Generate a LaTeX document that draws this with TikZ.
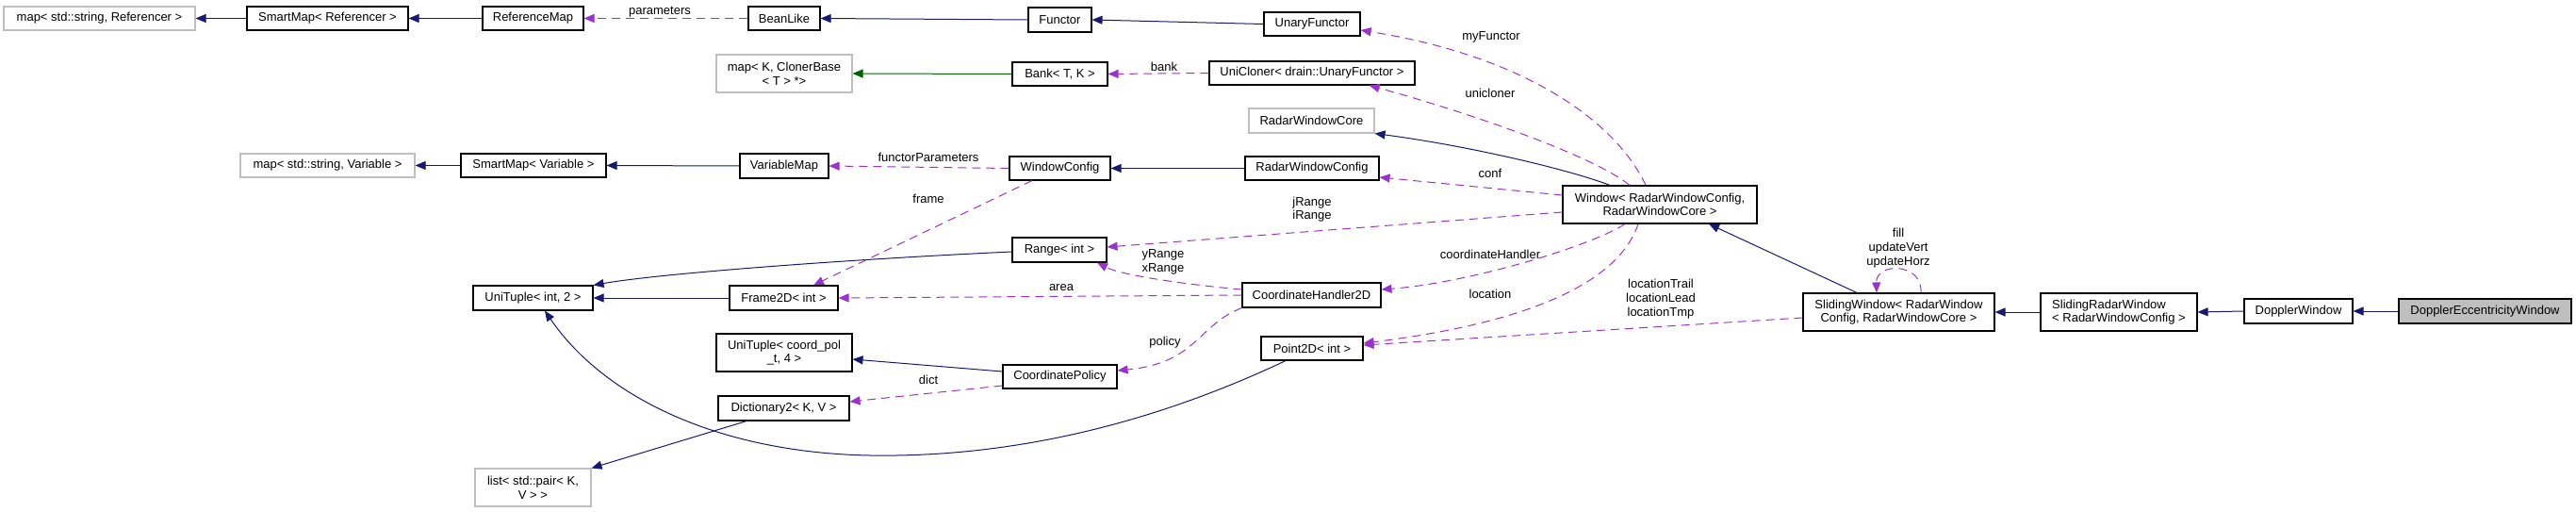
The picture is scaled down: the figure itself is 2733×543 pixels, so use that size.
\documentclass[tikz,border=0pt]{standalone}
\usepackage{fontspec}
\setmainfont{Liberation Sans}
\usetikzlibrary{arrows.meta}
\definecolor{navy}{HTML}{191970}
\definecolor{dpurple}{HTML}{9A32CD}
\definecolor{dgreen}{HTML}{006400}
\definecolor{grayline}{HTML}{BFBFBF}
\definecolor{focusfill}{HTML}{BFBFBF}
\begin{document}
\begin{tikzpicture}[x=1pt,y=-1pt,
  cls/.style={draw=black, line width=1.1pt, fill=white, inner sep=0pt,
    font=\fontsize{13}{14.7}\selectfont, align=center},
  ext/.style={cls, draw=grayline},
  focus/.style={cls, fill=focusfill},
  inh/.style={draw=navy, line width=1pt, -{Triangle[length=11pt,width=9pt]}},
  grn/.style={inh, draw=dgreen},
  use/.style={draw=dpurple, line width=1pt, dash pattern=on 9pt off 6pt,
    -{Triangle[length=11pt,width=9pt]}},
  lbl/.style={font=\fontsize{13}{14.7}\selectfont, align=center, inner sep=0pt}]
\useasboundingbox (0,0) rectangle (2733,543);

% nodes
\node[ext, minimum width=203pt, minimum height=25pt] (mapRef) at (105.5,19.5) {map< std::string, Referencer >};
\node[cls, minimum width=171pt, minimum height=25pt] (smRef) at (347.5,19.5) {SmartMap< Referencer >};
\node[cls, minimum width=107pt, minimum height=25pt] (refMap) at (565.5,19.5) {ReferenceMap};
\node[cls, minimum width=76pt, minimum height=25pt] (beanLike) at (832,19.5) {BeanLike};
\node[cls, minimum width=67pt, minimum height=26pt] (functor) at (1124.5,21) {Functor};
\node[cls, minimum width=102pt, minimum height=25pt] (unaryFunctor) at (1392,25.5) {UnaryFunctor};
\node[ext, minimum width=144pt, minimum height=40pt] (mapCloner) at (832,78) {map< K, ClonerBase\\< T > *>};
\node[cls, minimum width=101pt, minimum height=25pt] (bank) at (1124.5,78.5) {Bank< T, K >};
\node[cls, minimum width=218pt, minimum height=25pt] (uniCloner) at (1392,77.5) {UniCloner< drain::UnaryFunctor >};
\node[ext, minimum width=133pt, minimum height=26pt] (rwCore) at (1391.5,128) {RadarWindowCore};
\node[ext, minimum width=185pt, minimum height=25pt] (mapVar) at (347.5,175.5) {map< std::string, Variable >};
\node[cls, minimum width=154pt, minimum height=25pt] (smVar) at (566,175.5) {SmartMap< Variable >};
\node[cls, minimum width=94pt, minimum height=26pt] (varMap) at (832,176) {VariableMap};
\node[cls, minimum width=107pt, minimum height=25pt] (winConfig) at (1124.5,178.5) {WindowConfig};
\node[cls, minimum width=142pt, minimum height=25pt] (rwConfig) at (1392,178.5) {RadarWindowConfig};
\node[cls, minimum width=206pt, minimum height=40pt] (window) at (1761,217) {Window< RadarWindowConfig,\\RadarWindowCore >};
\node[cls, minimum width=100pt, minimum height=26pt] (range) at (1124,265) {Range< int >};
\node[cls, minimum width=127pt, minimum height=26pt] (uniTuple2) at (565.5,316) {UniTuple< int, 2 >};
\node[cls, minimum width=115pt, minimum height=26pt] (frame2D) at (831.5,316) {Frame2D< int >};
\node[cls, minimum width=147pt, minimum height=26pt] (coordH) at (1391.5,313) {CoordinateHandler2D};
\node[cls, minimum width=144pt, minimum height=40pt] (uniTuple4) at (832,374) {UniTuple< coord\_pol\\\_t, 4 >};
\node[cls, minimum width=121pt, minimum height=25pt] (coordPolicy) at (1124.5,399.5) {CoordinatePolicy};
\node[cls, minimum width=139pt, minimum height=26pt] (dict2) at (831.5,433) {Dictionary2< K, V >};
\node[cls, minimum width=108pt, minimum height=25pt] (point2D) at (1392,369.5) {Point2D< int >};
\node[ext, minimum width=123pt, minimum height=40pt] (listPair) at (565.5,517) {list< std::pair< K,\\V > >};
\node[cls, minimum width=203pt, minimum height=40pt] (slidingWin) at (2014.5,331) {SlidingWindow< RadarWindow\\Config, RadarWindowCore >};
\node[cls, minimum width=166pt, minimum height=40pt, align=left] (slidingRadar) at (2248,331) {SlidingRadarWindow\\< RadarWindowConfig >};
\node[cls, minimum width=115pt, minimum height=26pt] (dopplerWin) at (2438.5,330) {DopplerWindow};
\node[focus, minimum width=183pt, minimum height=26pt] (dopplerEcc) at (2636.5,330) {DopplerEccentricityWindow};

% edge labels
\node[lbl] (lParameters) at (700,13) {parameters};
\node[lbl] (lBank) at (1235,71) {bank};
\node[lbl] (lFunctorParameters) at (985,167) {functorParameters};
\node[lbl] (lFrame) at (985,211) {frame};
\node[lbl] (lMyFunctor) at (1582,39) {myFunctor};
\node[lbl] (lUnicloner) at (1581,99) {unicloner};
\node[lbl] (lConf) at (1581,184) {conf};
\node[lbl] (lIJRange) at (1392,222) {jRange\\iRange};
\node[lbl] (lCoordH) at (1581,270) {coordinateHandler};
\node[lbl] (lLocation) at (1581,312) {location};
\node[lbl] (lLocTrail) at (1762,317) {locationTrail\\locationLead\\locationTmp};
\node[lbl] (lXYRange) at (1234,278) {yRange\\xRange};
\node[lbl] (lArea) at (1126,305) {area};
\node[lbl] (lPolicy) at (1236,363) {policy};
\node[lbl] (lDict) at (985,403) {dict};
\node[lbl] (lFill) at (2014,263) {fill\\updateVert\\updateHorz};

% inheritance edges
\draw[inh] (smRef.west) -- (mapRef.east);
\draw[inh] (refMap.west) -- (smRef.east);
\draw[inh] (functor.west) -- (beanLike.east);
\draw[inh] (unaryFunctor.west) -- (functor.east);
\draw[grn] (bank.west) -- (mapCloner.east);
\draw[inh] (smVar.west) -- (mapVar.east);
\draw[inh] (varMap.west) -- (smVar.east);
\draw[inh] (rwConfig.west) -- (winConfig.east);
\draw[inh] ([xshift=-53pt]window.north) .. controls (1665,180) and (1560,155) .. (rwCore.south east);
\draw[inh] ([xshift=-44.5pt]slidingWin.north) -- ([xshift=52pt]window.south);
\draw[inh] (slidingRadar.west) -- (slidingWin.east);
\draw[inh] (dopplerWin.west) -- (slidingRadar.east);
\draw[inh] (dopplerEcc.west) -- (dopplerWin.east);
\draw[inh] ([yshift=-2pt]range.west) .. controls (900,275) and (700,290) .. (uniTuple2.north east);
\draw[inh] (frame2D.west) -- (uniTuple2.east);
\draw[inh] ([yshift=5.5pt]coordPolicy.west) -- ([yshift=-7pt]uniTuple4.east);
\draw[inh] ([xshift=-39.5pt]dict2.south) -- (listPair.north east);
\draw[inh] ([xshift=-28pt]point2D.south) .. controls (1200,460) and (1050,485) .. (923,483)
  .. controls (760,480) and (640,420) .. ([xshift=12.5pt]uniTuple2.south);

% usage edges
\draw[use] (beanLike.west) -- (refMap.east);
\draw[use] (uniCloner.west) -- (bank.east);
\draw[use] (winConfig.west) -- (varMap.east);
\draw[use] ([xshift=-15pt]window.north) .. controls (1715,130) and (1620,60) .. ([yshift=-6.5pt]unaryFunctor.east);
\draw[use] ([xshift=-32pt]window.north) .. controls (1690,165) and (1560,120) .. ([xshift=-49pt]uniCloner.south east);
\draw[use] ([yshift=10pt]window.west) -- ([yshift=-9.5pt]rwConfig.east);
\draw[use] ([yshift=-8pt]window.west) -- ([yshift=3pt]range.east);
\draw[use] ([xshift=-37pt]window.south) .. controls (1690,260) and (1560,300) .. ([yshift=6pt]coordH.east);
\draw[use] ([xshift=-23pt]window.south) .. controls (1710,320) and (1560,350) .. ([yshift=5.5pt]point2D.east);
\draw[use] ([yshift=-6pt]slidingWin.west) -- ([yshift=3.5pt]point2D.east);
\draw[use] ([xshift=23.5pt]slidingWin.north) .. controls (2040,278) and (1990,278) .. ([xshift=-23.5pt]slidingWin.north);
\draw[use] ([xshift=-29.5pt]winConfig.south) -- ([xshift=31.5pt]frame2D.north);
\draw[use] (coordH.west) -- (frame2D.east);
\draw[use] ([yshift=6pt]coordH.west) .. controls (1260,302) and (1190,292) .. ([xshift=40pt]range.south);
\draw[use] (coordH.south west) .. controls (1270,345) and (1270,385) .. ([yshift=6.5pt]coordPolicy.east);
\draw[use] ([yshift=-9.5pt]coordPolicy.west) -- ([yshift=7pt]dict2.east);
\end{tikzpicture}
\end{document}
